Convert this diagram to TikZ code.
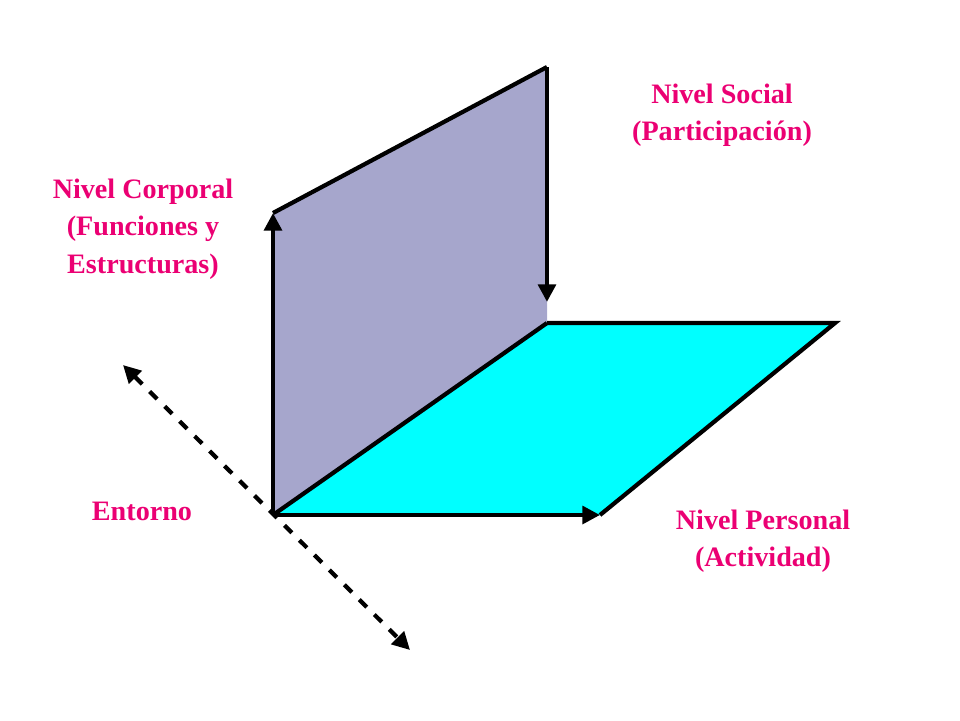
\documentclass[tikz,border=0pt]{standalone}
\usepackage{fontspec}
\setmainfont{Liberation Serif}
\usetikzlibrary{arrows.meta}
\definecolor{labelpink}{RGB}{235,0,115}
\definecolor{planeviolet}{RGB}{166,166,204}
\definecolor{planecyan}{RGB}{0,255,255}
\begin{document}
\begin{tikzpicture}[x=0.01cm,y=-0.01cm,
  every node/.style={text=labelpink,font=\fontsize{8pt}{10.6pt}\selectfont\bfseries,align=center},
  axis/.style={line width=1.2pt,-{Triangle[length=5pt,width=5pt]}},
  edge/.style={line width=1.2pt}]
\useasboundingbox (0,0) rectangle (960,720);
% corners
\coordinate (o) at (273,515);
\coordinate (up) at (273,213);
\coordinate (top) at (547,67);
\coordinate (back) at (547,323);
\coordinate (far) at (835,323);
\coordinate (right) at (600,515);
\coordinate (envA) at (123,365);
\coordinate (envB) at (410,650);
% planes
\fill[planeviolet] (o) -- (up) -- (top) -- (back) -- cycle;
\fill[planecyan] (o) -- (back) -- (far) -- (right) -- cycle;
\draw[edge] (up) -- (top);
\draw[edge] (back) -- (far) -- (right);
\draw[edge] (o) -- (back);
\draw[axis] (top) -- ([yshift=6]back);
\draw[axis] (o) -- (up);
\draw[axis] (o) -- (right);
\draw[line width=1.2pt,dashed,{Triangle[length=5pt,width=5pt]}-{Triangle[length=5pt,width=5pt]}] (envA) -- (envB);
% labels
\node (social) at (722,115) {Nivel Social\\(Participación)};
\node (corporal) at (143,229) {Nivel Corporal\\(Funciones y\\Estructuras)};
\node (entorno) at (142,511) {Entorno};
\node (personal) at (763,541) {Nivel Personal\\(Actividad)};
\end{tikzpicture}
\end{document}
